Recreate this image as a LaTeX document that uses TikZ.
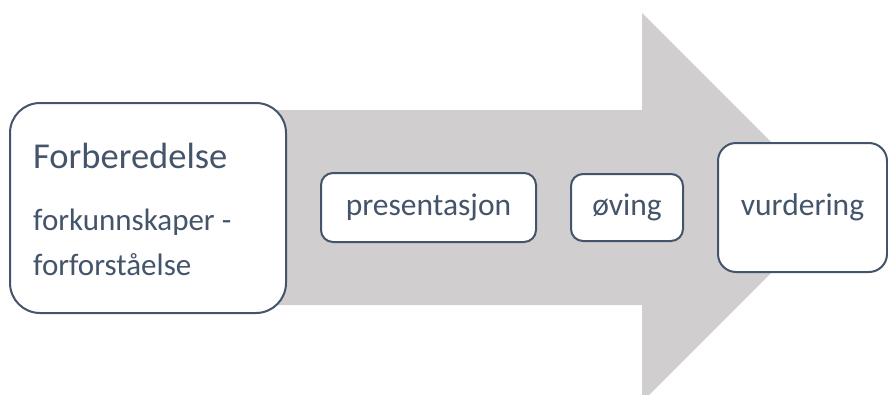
\documentclass[tikz,border=0pt]{standalone}
\usepackage{fontspec}
\setmainfont{Carlito}
\definecolor{boxline}{HTML}{44546A}
\definecolor{arrowgrey}{HTML}{D0CECE}
\tikzset{
  stepbox/.style={draw=boxline, line width=2pt, fill=white, text=boxline,
    font=\fontsize{31.5}{38}\selectfont, inner sep=0pt},
  steptext/.style={text=boxline, inner sep=0pt}
}
\begin{document}
\begin{tikzpicture}[x=1pt,y=-1pt]
      \useasboundingbox (0,0) rectangle (888,394);
      \clip (0,0) rectangle (888,394);
      % big arrow behind the steps
      \fill[arrowgrey] (250,110) -- (642,110) -- (642,13) -- (836.5,207.5)
        -- (642,402) -- (642,305) -- (250,305) -- cycle;
      % steps
      \node[stepbox, rounded corners=30pt, minimum width=276pt, minimum height=210pt]
        (prep) at (148,208) {};
      \node[steptext, anchor=base west, font=\fontsize{36.5}{44}\selectfont]
        (preptitle) at (33,168) {Forberedelse};
      \node[steptext, anchor=base west, font=\fontsize{31}{37}\selectfont]
        (prepline1) at (33,230) {forkunnskaper -};
      \node[steptext, anchor=base west, font=\fontsize{31}{37}\selectfont]
        (prepline2) at (33,275) {forforståelse};
      \node[stepbox, rounded corners=12pt, minimum width=215pt, minimum height=69pt]
        (pres) at (428.5,207.5) {presentasjon};
      \node[stepbox, rounded corners=12pt, minimum width=112pt, minimum height=67pt]
        (oving) at (627,207.5) {øving};
      \node[stepbox, rounded corners=18pt, minimum width=169pt, minimum height=129pt]
        (vurd) at (802.5,207.5) {vurdering};
    \end{tikzpicture}
\end{document}
